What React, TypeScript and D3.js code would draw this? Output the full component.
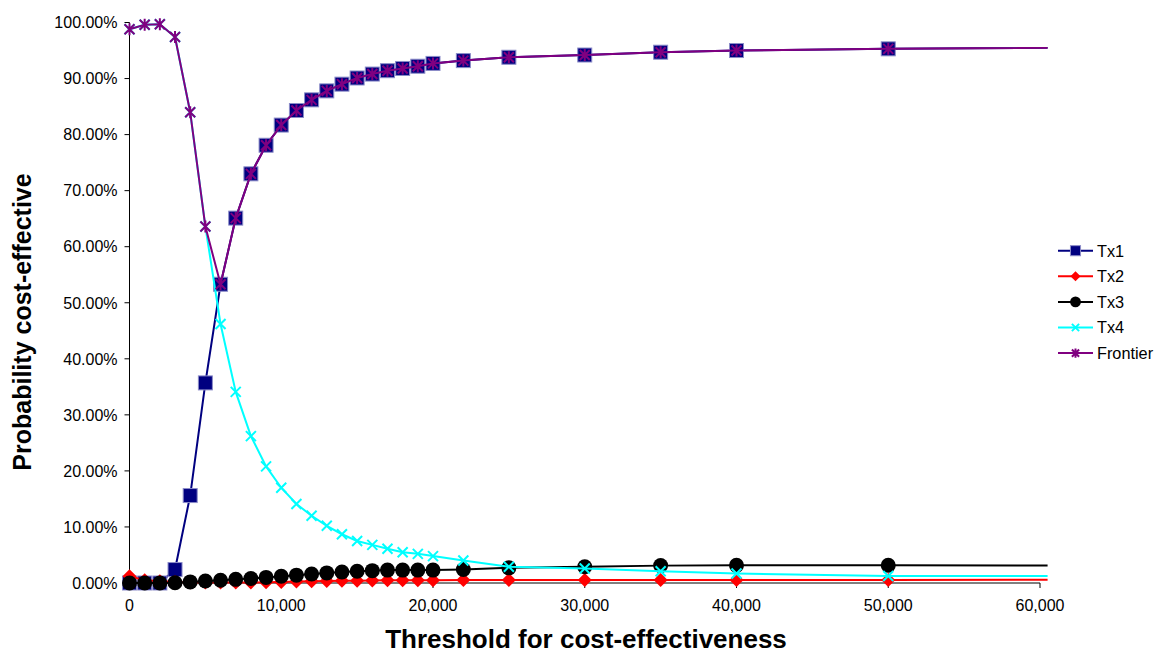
import React from "react";
import * as d3 from "d3";

const thresholds = [0, 1000, 2000, 3000, 4000, 5000, 6000, 7000, 8000, 9000, 10000, 11000, 12000, 13000, 14000, 15000, 16000, 17000, 18000, 19000, 20000, 22000, 25000, 30000, 35000, 40000, 50000, 100000];

const tx1 = [0, 0, 0, 2.4, 15.6, 35.7, 53.3, 65.1, 73.0, 78.1, 81.7, 84.3, 86.2, 87.8, 89.0, 90.1, 90.8, 91.4, 91.8, 92.2, 92.7, 93.2, 93.8, 94.2, 94.7, 95.0, 95.3, 96.2];
const tx2 = [1.2, 0.5, 0.3, 0.2, 0.1, 0.1, 0.1, 0.1, 0.1, 0.15, 0.2, 0.25, 0.3, 0.35, 0.4, 0.4, 0.45, 0.5, 0.5, 0.5, 0.5, 0.55, 0.55, 0.55, 0.55, 0.55, 0.55, 0.6];
const tx3 = [0, 0, 0, 0.05, 0.2, 0.35, 0.5, 0.65, 0.8, 1.0, 1.2, 1.4, 1.6, 1.8, 1.95, 2.1, 2.2, 2.3, 2.3, 2.3, 2.3, 2.4, 2.7, 2.9, 3.1, 3.15, 3.15, 3.1];
const tx4 = [98.8, 99.6, 99.7, 97.4, 84.0, 63.6, 46.2, 34.1, 26.2, 20.8, 17.0, 14.1, 12.0, 10.2, 8.7, 7.5, 6.8, 6.1, 5.5, 5.2, 4.8, 4.0, 2.9, 2.6, 2.1, 1.7, 1.25, 1.2];
const frontier = [98.8, 99.6, 99.7, 97.4, 84.0, 63.6, 53.3, 65.1, 73.0, 78.1, 81.7, 84.3, 86.2, 87.8, 89.0, 90.1, 90.8, 91.4, 91.8, 92.2, 92.7, 93.2, 93.8, 94.2, 94.7, 95.0, 95.3, 96.2];

const seriesNames = ["Tx1", "Tx2", "Tx3", "Tx4", "Frontier"];
const xTicks = [0, 10000, 20000, 30000, 40000, 50000, 60000];
const yTicks = [0, 10, 20, 30, 40, 50, 60, 70, 80, 90, 100];
const xAxisTitle = "Threshold for cost-effectiveness";
const yAxisTitle = "Probability cost-effective";

const W = 1156;
const H = 653;
const left = 129.5;
const right = 1040;
const top = 22.5;
const bottom = 583;
const FONT = "'Liberation Sans', Arial, sans-serif";

const x = d3.scaleLinear().domain([0, 60000]).range([left, right]);
const y = d3.scaleLinear().domain([0, 100]).range([bottom, top]);
const clipRight = x(60500);

type Kind = "square" | "diamond" | "circle" | "x" | "star";
const styles: { color: string; kind: Kind; values: number[] }[] = [
  { color: "#000080", kind: "square", values: tx1 },
  { color: "#FF0000", kind: "diamond", values: tx2 },
  { color: "#000000", kind: "circle", values: tx3 },
  { color: "#00FFFF", kind: "x", values: tx4 },
  { color: "#800080", kind: "star", values: frontier },
];

function Marker({ kind, color, cx, cy, scale = 1 }: { kind: Kind; color: string; cx: number; cy: number; scale?: number }) {
  if (kind === "square") {
    const s = 7 * scale;
    return <rect x={cx - s} y={cy - s} width={2 * s} height={2 * s} fill={color} stroke="#8c8cc8" strokeWidth={1} />;
  }
  if (kind === "diamond") {
    const s = 7 * scale;
    return <path d={`M${cx},${cy - s}L${cx + s},${cy}L${cx},${cy + s}L${cx - s},${cy}Z`} fill={color} />;
  }
  if (kind === "circle") {
    return <circle cx={cx} cy={cy} r={7.5 * scale} fill={color} />;
  }
  if (kind === "x") {
    const s = 5 * scale;
    return <path d={`M${cx - s},${cy - s}L${cx + s},${cy + s}M${cx - s},${cy + s}L${cx + s},${cy - s}`} stroke={color} strokeWidth={2} fill="none" />;
  }
  const s = 5 * scale;
  return (
    <path
      d={`M${cx - s},${cy - s}L${cx + s},${cy + s}M${cx - s},${cy + s}L${cx + s},${cy - s}M${cx},${cy - s - 1}L${cx},${cy + s + 1}`}
      stroke={color}
      strokeWidth={2}
      fill="none"
    />
  );
}

export default function App() {
  const line = (vals: number[]) =>
    d3
      .line<number>()
      .x((_, i) => x(thresholds[i]))
      .y((v) => y(v))(vals) || "";

  const fmtX = d3.format(",");
  const legendTop = 250.7;
  const legendStep = 25.6;

  return (
    <svg width={W} height={H} style={{ position: "absolute", left: 0, top: 0, background: "#fff" }} fontFamily={FONT}>
      <defs>
        <clipPath id="plotClip">
          <rect x={0} y={0} width={clipRight} height={H} />
        </clipPath>
      </defs>

      {/* axes */}
      <line x1={left} x2={left} y1={top} y2={bottom} stroke="#000" strokeWidth={1} />
      <line x1={left} x2={right} y1={bottom} y2={bottom} stroke="#000" strokeWidth={1} />
      {yTicks.map((t) => (
        <g key={"y" + t}>
          <line x1={left - 5} x2={left} y1={y(t)} y2={y(t)} stroke="#000" />
          <text x={left - 12} y={y(t)} dy="0.36em" textAnchor="end" fontSize={16} fill="#000">
            {t.toFixed(2) + "%"}
          </text>
        </g>
      ))}
      {xTicks.map((t) => (
        <g key={"x" + t}>
          <line x1={x(t)} x2={x(t)} y1={bottom} y2={bottom + 5} stroke="#000" />
          <text x={x(t)} y={611} textAnchor="middle" fontSize={16} fill="#000">
            {fmtX(t)}
          </text>
        </g>
      ))}

      {/* series */}
      <g clipPath="url(#plotClip)">
        {styles.map((s, si) => (
          <g key={seriesNames[si]}>
            <path d={line(s.values)} fill="none" stroke={s.color} strokeWidth={2} />
            {s.values.map((v, i) =>
              thresholds[i] <= 60000 ? (
                <Marker key={i} kind={s.kind} color={s.color} cx={x(thresholds[i])} cy={y(v)} />
              ) : null
            )}
          </g>
        ))}
      </g>

      {/* legend */}
      {styles.map((s, i) => {
        const ly = legendTop + i * legendStep;
        return (
          <g key={"lg" + i}>
            <line x1={1058} x2={1093} y1={ly} y2={ly} stroke={s.color} strokeWidth={2} />
            <Marker kind={s.kind} color={s.color} cx={1075.5} cy={ly} scale={0.72} />
            <text x={1097} y={ly} dy="0.36em" fontSize={16.3} fill="#000">
              {seriesNames[i]}
            </text>
          </g>
        );
      })}

      {/* titles */}
      <text x={586} y={648} textAnchor="middle" fontSize={26} fontWeight="bold" fill="#000">
        {xAxisTitle}
      </text>
      <text transform="translate(31,322) rotate(-90)" textAnchor="middle" fontSize={25} fontWeight="bold" fill="#000">
        {yAxisTitle}
      </text>
    </svg>
  );
}
